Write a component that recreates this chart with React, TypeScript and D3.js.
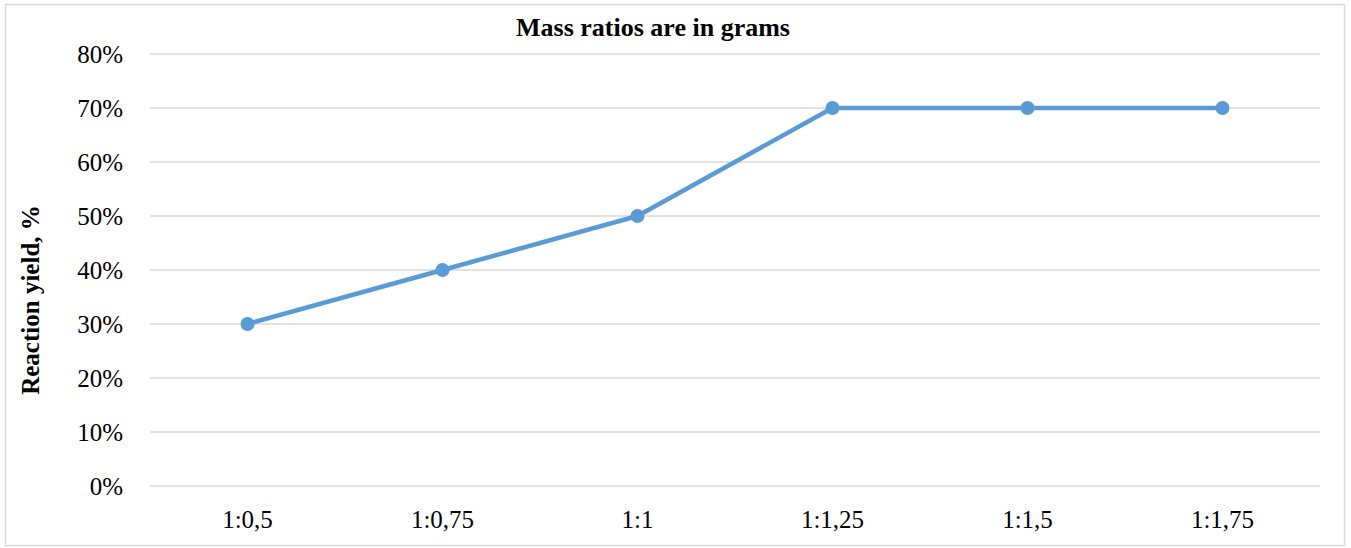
import React, { useEffect, useRef } from 'react'
import * as d3 from 'd3'

const categories = ['1:0,5', '1:0,75', '1:1', '1:1,25', '1:1,5', '1:1,75']
const yieldValues = [0.3, 0.4, 0.5, 0.7, 0.7, 0.7]
const yTicks = [0, 0.1, 0.2, 0.3, 0.4, 0.5, 0.6, 0.7, 0.8]

export default function App() {
  const ref = useRef<SVGSVGElement | null>(null)

  useEffect(() => {
    const width = 1351
    const height = 548
    const margin = { top: 54, right: 31, bottom: 62, left: 150 }
    const svg = d3.select(ref.current!)
    svg.selectAll('*').remove()

    const font = '"Liberation Serif", "Times New Roman", serif'

    svg.append('rect')
      .attr('x', 5.5).attr('y', 4.5)
      .attr('width', 1339).attr('height', 541)
      .attr('fill', '#fff').attr('stroke', '#d9d9d9').attr('stroke-width', 1.5)

    const x = d3.scaleBand<string>().domain(categories).range([margin.left, width - margin.right])
    const y = d3.scaleLinear().domain([0, 0.8]).range([height - margin.bottom, margin.top])

    const grid = svg.append('g')
    grid.selectAll('line').data(yTicks).enter().append('line')
      .attr('x1', margin.left).attr('x2', width - margin.right)
      .attr('y1', d => y(d)).attr('y2', d => y(d))
      .attr('stroke', '#d9d9d9').attr('stroke-width', 1.5)

    svg.append('g').selectAll('text').data(yTicks).enter().append('text')
      .attr('x', 123).attr('y', d => y(d)).attr('dy', '0.35em')
      .attr('text-anchor', 'end').attr('font-family', font).attr('font-size', 25)
      .attr('fill', '#000')
      .text(d => d3.format('.0%')(d))

    svg.append('g').selectAll('text').data(categories).enter().append('text')
      .attr('x', d => (x(d) ?? 0) + x.bandwidth() / 2).attr('y', height - margin.bottom + 33)
      .attr('dy', '0.35em')
      .attr('text-anchor', 'middle').attr('font-family', font).attr('font-size', 25)
      .attr('fill', '#000')
      .text(d => d)

    const pts = categories.map((c, i) => [(x(c) ?? 0) + x.bandwidth() / 2, y(yieldValues[i])] as [number, number])
    svg.append('path')
      .attr('d', d3.line()(pts))
      .attr('fill', 'none').attr('stroke', '#5b9bd5').attr('stroke-width', 4.5)
      .attr('stroke-linejoin', 'round')

    svg.append('g').selectAll('circle').data(pts).enter().append('circle')
      .attr('cx', d => d[0]).attr('cy', d => d[1]).attr('r', 7)
      .attr('fill', '#5b9bd5')

    svg.append('text')
      .attr('x', 653).attr('y', 27).attr('dy', '0.35em')
      .attr('text-anchor', 'middle').attr('font-family', font).attr('font-size', 26)
      .attr('font-weight', 700)
      .text('Mass ratios are in grams')

    svg.append('text')
      .attr('transform', `translate(30,${(y(0) + y(0.8)) / 2 + 30}) rotate(-90)`)
      .attr('dy', '0.35em')
      .attr('text-anchor', 'middle').attr('font-family', font).attr('font-size', 25)
      .attr('font-weight', 700)
      .text('Reaction yield, %')
  }, [])

  return (
    <svg ref={ref} width={1351} height={548}
      style={{ position: 'absolute', left: 0, top: 0, background: '#fff' }} />
  )
}
